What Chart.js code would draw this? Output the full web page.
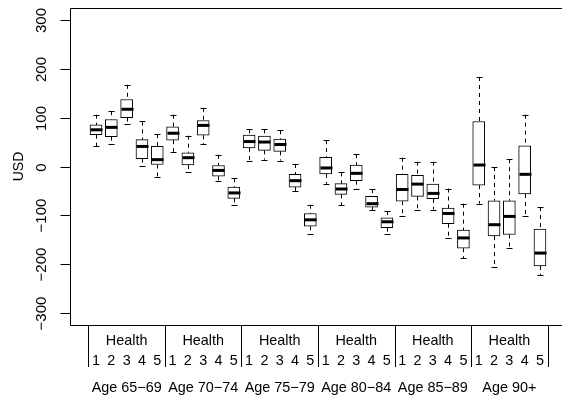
<!DOCTYPE html>
<html>
<head>
<meta charset="utf-8">
<script src="https://cdn.jsdelivr.net/npm/chart.js@4"></script>
<style>
html,body{margin:0;padding:0;background:#fff;overflow:hidden;}
#wrap{width:562px;height:404px;position:relative;}
</style>
</head>
<body>
<div id="wrap"><canvas id="c" width="562" height="404"></canvas></div>
<script>
// ---- data ----
const ageGroups = ["Age 65\u221269","Age 70\u221274","Age 75\u221279","Age 80\u221284","Age 85\u221289","Age 90+"];
const healthLevels = ["1","2","3","4","5"];
const groupLabel = "Health";
const yTicks = [-300,-200,-100,0,100,200,300];
const yTitle = "USD";
// one entry per box, ordered age group then health level
const whiskerLow = [41,46,86,2,-21, 30,-11,45,-30,-78, 12,14,12,-50,-137, -35,-79,-47,-89,-139, -101,-88,-88,-146,-187, -76,-205,-166,-102,-222];
const q1 =         [65,61,100,16,4, 54,3,64,-20,-65, 38,33,31,-42,-122, -15,-57,-29,-83,-125, -71,-61,-66,-117,-167, -38,-142,-139,-56,-203];
const median =     [75,80,117,41,14, 68,18,84,-8,-54, 51,50,45,-29,-109, -3,-46,-14,-76,-113, -47,-36,-55,-96,-146, 3,-119,-102,-16,-177];
const q3 =         [85,96,137,55,41, 81,28,94,2,-42, 64,62,56,-16,-96, 19,-35,3,-61,-105, -16,-18,-36,-85,-130, 92,-70,-70,42,-128];
const whiskerHigh= [106,113,167,92,66, 106,63,120,24,-24, 76,76,74,5,-78, 54,-12,25,-46,-91, 18,10,10,-45,-76, 183,-1,15,106,-83];

const nPer = healthLevels.length;
const boxData = q1.map((v,i)=>({x:i+1, y:[v,q3[i]]}));

const FONT = '"Liberation Sans", Arial, Helvetica, sans-serif';

const boxPlugin = {
  id:'boxExtras',
  afterDatasetsDraw(chart){
    const ctx = chart.ctx, xs = chart.scales.x, ys = chart.scales.y, ca = chart.chartArea;
    ctx.save();
    ctx.strokeStyle = '#000';
    // whiskers + staples + medians
    for(let i=0;i<median.length;i++){
      const px = Math.round(xs.getPixelForValue(i+1))+0.5;
      const yLo = ys.getPixelForValue(whiskerLow[i]);
      const yQ1 = ys.getPixelForValue(q1[i]);
      const yQ3 = ys.getPixelForValue(q3[i]);
      const yHi = ys.getPixelForValue(whiskerHigh[i]);
      const yMed = ys.getPixelForValue(median[i]);
      ctx.lineWidth = 1;
      ctx.setLineDash([4,4]);
      ctx.beginPath();
      ctx.moveTo(px,yHi); ctx.lineTo(px,yQ3);
      ctx.moveTo(px,yQ1); ctx.lineTo(px,yLo);
      ctx.stroke();
      ctx.setLineDash([]);
      const sw = 3;
      ctx.beginPath();
      ctx.moveTo(px-sw,Math.round(yHi)+0.5); ctx.lineTo(px+sw,Math.round(yHi)+0.5);
      ctx.moveTo(px-sw,Math.round(yLo)+0.5); ctx.lineTo(px+sw,Math.round(yLo)+0.5);
      ctx.stroke();
      ctx.lineWidth = 3;
      ctx.beginPath();
      ctx.moveTo(px-6,yMed); ctx.lineTo(px+6,yMed);
      ctx.stroke();
    }
    // plot frame (left, top, bottom; right lies beyond the canvas)
    ctx.lineWidth = 1;
    ctx.beginPath();
    const L = Math.round(ca.left)+0.5, T = Math.round(ca.top)+0.5, B = Math.round(ca.bottom)+0.5;
    ctx.moveTo(chart.width,T); ctx.lineTo(L,T); ctx.lineTo(L,B); ctx.lineTo(chart.width,B);
    ctx.stroke();
    // y ticks and labels
    ctx.fillStyle = '#000';
    ctx.font = '15px ' + FONT;
    ctx.textAlign = 'center';
    ctx.textBaseline = 'middle';
    yTicks.forEach(t=>{
      const py = Math.round(ys.getPixelForValue(t))+0.5;
      ctx.beginPath(); ctx.moveTo(L-10,py); ctx.lineTo(L,py); ctx.stroke();
      ctx.save();
      ctx.translate(42, py);
      ctx.rotate(-Math.PI/2);
      ctx.fillText(String(t).replace('-', '\u2212'),0,0);
      ctx.restore();
    });
    ctx.save();
    ctx.translate(19, ys.getPixelForValue(0));
    ctx.rotate(-Math.PI/2);
    ctx.font = '14px ' + FONT;
    ctx.fillText(yTitle,0,0);
    ctx.restore();
    // grouped x axis
    ctx.font = '14.4px ' + FONT;
    for(let g=0; g<=ageGroups.length; g++){
      const sx = Math.round(xs.getPixelForValue(g*nPer+0.5))+0.5;
      ctx.beginPath(); ctx.moveTo(sx,B); ctx.lineTo(sx,367); ctx.stroke();
    }
    ageGroups.forEach((a,g)=>{
      const cx = xs.getPixelForValue(g*nPer+(nPer+1)/2);
      ctx.fillText(groupLabel, cx, 341);
      healthLevels.forEach((h,k)=>{
        ctx.fillText(h, xs.getPixelForValue(g*nPer+k+1), 361);
      });
      ctx.fillText(a, cx, 388);
    });
    ctx.restore();
  }
};

new Chart(document.getElementById('c'), {
  type:'bar',
  data:{datasets:[{
    data: boxData,
    backgroundColor:'#fff',
    borderColor:'#000',
    borderWidth:1,
    borderSkipped:false,
    barThickness:12
  }]},
  options:{
    responsive:false,
    animation:false,
    devicePixelRatio:1,
    layout:{padding:{left:70,top:8,right:0,bottom:79}},
    plugins:{legend:{display:false},tooltip:{enabled:false}},
    scales:{
      x:{type:'linear',min:-0.7,max:31.44,display:false,offset:false},
      y:{type:'linear',min:-324,max:324,display:false}
    }
  },
  plugins:[boxPlugin]
});
</script>
</body>
</html>
